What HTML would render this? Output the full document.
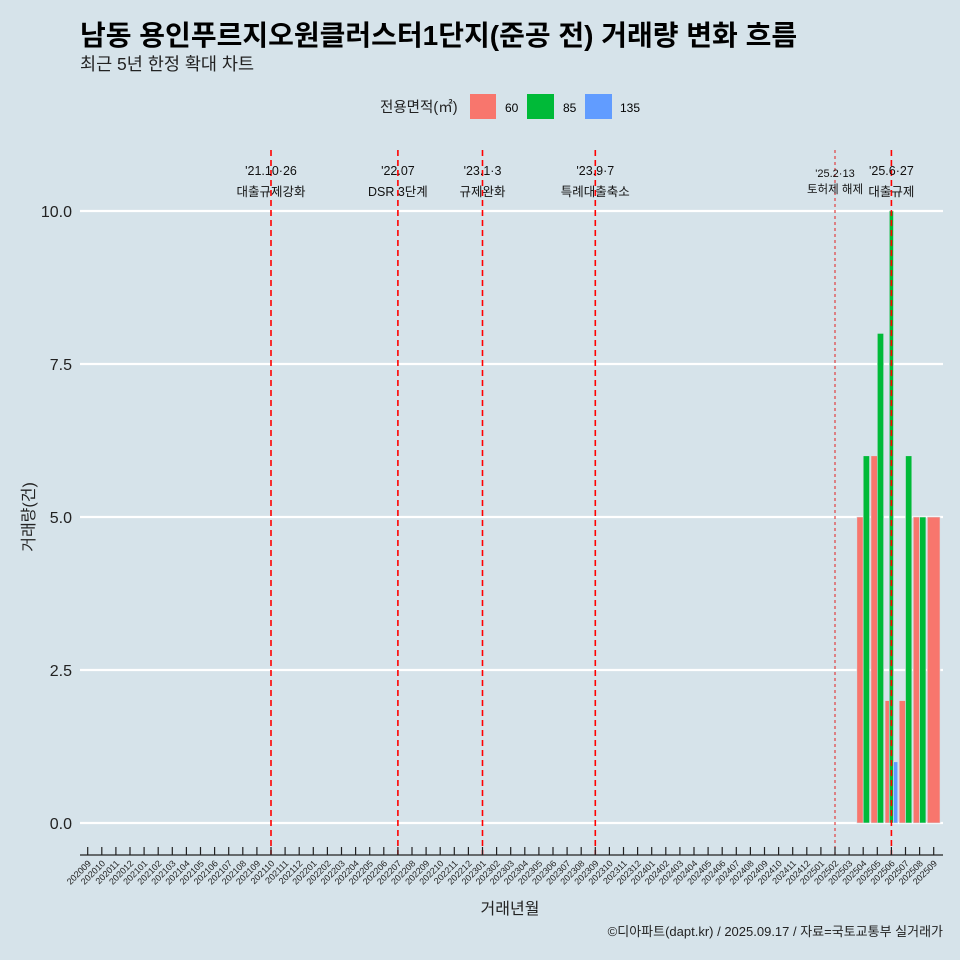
<!DOCTYPE html>
<html><head><meta charset="utf-8">
<style>
body{margin:0;background:#d6e3ea;}
svg{display:block;font-family:"Liberation Sans","Noto Sans CJK KR",sans-serif;}
</style></head>
<body>
<svg id="chart" width="960" height="960" viewBox="0 0 960 960">
<rect width="960" height="960" fill="#d6e3ea"/>
<text x="80" y="45" font-size="28" font-weight="bold" fill="#000">남동 용인푸르지오원클러스터1단지(준공 전) 거래량 변화 흐름</text>
<text x="80" y="70" font-size="17.5" fill="#222">최근 5년 한정 확대 차트</text>
<g>
<text x="380" y="112" font-size="14.5" fill="#222">전용면적(㎡)</text>
<rect x="470" y="94" width="26" height="25" fill="#f8766d"/>
<text x="505" y="112" font-size="12">60</text>
<rect x="527" y="94" width="27" height="25" fill="#00ba38"/>
<text x="563" y="112" font-size="12">85</text>
<rect x="585" y="94" width="27" height="25" fill="#619cff"/>
<text x="620" y="112" font-size="12">135</text>
</g>
<g id="grid"></g><g id="bars"></g><g id="events"></g><g id="axes"></g>
<text x="510" y="914" font-size="16" text-anchor="middle" fill="#222">거래년월</text>
<text transform="translate(34,517) rotate(-90)" font-size="16" text-anchor="middle" fill="#222">거래량(건)</text>
<text x="943" y="936" font-size="13" text-anchor="end" fill="#222">©디아파트(dapt.kr) / 2025.09.17 / 자료=국토교통부 실거래가</text>
</svg>
<script>
const months=[];for(let y=2020;y<=2025;y++)for(let m=1;m<=12;m++){const k=y*100+m;if(k>=202009&&k<=202509)months.push(String(k));}
const yTicks=[0,2.5,5,7.5,10];
const yTickLabels=["0.0","2.5","5.0","7.5","10.0"];
const series60={"202504":5,"202505":6,"202506":2,"202507":2,"202508":5,"202509":5};
const series85={"202504":6,"202505":8,"202506":10,"202507":6,"202508":5};
const series135={"202506":1};
const eventMonths=["202110","202207","202301","202309","202502","202506"];
const eventLine1=["'21.10·26","'22.07","'23.1·3","'23.9·7","'25.2·13","'25.6·27"];
const eventLine2=["대출규제강화","DSR 3단계","규제완화","특례대출축소","토허제 해제","대출규제"];
const NS="http://www.w3.org/2000/svg";
function mk(t,a,p){const e=document.createElementNS(NS,t);for(const k in a)e.setAttribute(k,a[k]);p.appendChild(e);return e;}
const x0=87.7,dx=14.1;
const xS=i=>x0+i*dx;
const yS=v=>823-v*61.2;
const grid=document.getElementById('grid'),bars=document.getElementById('bars'),ev=document.getElementById('events'),ax=document.getElementById('axes');
yTicks.forEach((v,i)=>{
 const l=mk('line',{x1:80,x2:943,y1:yS(v),y2:yS(v),stroke:'#fff','stroke-width':2.2},grid);
 
 
 const t=mk('text',{x:72,y:yS(v)+6,'font-size':16,'text-anchor':'end',fill:'#222'},grid);
 t.textContent=yTickLabels[i];
 
 
});
const seriesList=[[series60,'#f8766d','60'],[series85,'#00ba38','85'],[series135,'#619cff','135']];
months.forEach((m,i)=>{
 const present=seriesList.filter(s=>s[0][m]!==undefined);
 if(!present.length)return;
 const w=dx*0.9,bw=w/present.length;
 present.forEach((s,j)=>{
  const v=s[0][m];
  const r=mk('rect',{x:xS(i)-w/2+j*bw,y:yS(v),width:bw,height:yS(0)-yS(v),fill:s[1],stroke:'#d6e3ea','stroke-width':0.6},bars);
  
  
 });
});
eventMonths.forEach((m,k)=>{
 const i=months.indexOf(m),x=xS(i);
 const thin=m==="202502";
 const l=mk('line',{x1:x,x2:x,y1:150,y2:855,stroke:thin?'#e04040':'#ff0000','stroke-width':thin?1.2:1.6,'stroke-dasharray':thin?'3,3':'6,4'},ev);
 
 
 const t1=mk('text',{x:x,y:thin?177:175,'font-size':thin?11:12.5,'text-anchor':'middle',fill:'#111'},ev);
 t1.textContent=eventLine1[k];
 
 
 const t2=mk('text',{x:x,y:thin?193:196,'font-size':thin?11.5:12.5,'text-anchor':'middle',fill:'#111'},ev);
 t2.textContent=eventLine2[k];
 
 
});
const al=mk('line',{x1:80,x2:943,y1:855,y2:855,stroke:'#222','stroke-width':1.3},ax);


months.forEach((m,i)=>{
 const x=xS(i);
 const tk=mk('line',{x1:x,x2:x,y1:847,y2:855,stroke:'#222','stroke-width':1.2},ax);
 
 
 const t=mk('text',{x:x+4,y:864,'font-size':9,'text-anchor':'end',fill:'#222',transform:`rotate(-45 ${x+4} 864)`},ax);
 t.textContent=m;
 
 
});
</script>
</body></html>
